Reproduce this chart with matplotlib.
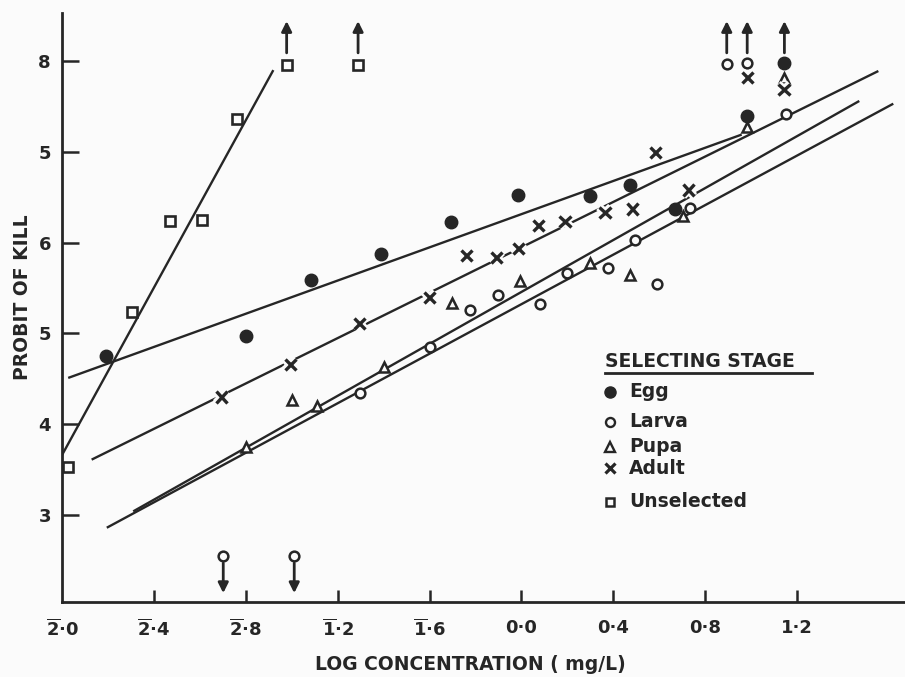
import matplotlib
matplotlib.use("Agg")
import matplotlib.pyplot as plt
import matplotlib.patheffects as pe

INK = "#262626"
BG = "#fbfbfb"

# x = log concentration (2̄.0 == -2.0), y = probit of kill
egg_x = [-1.808, -1.200, -0.916, -0.611, -0.306, -0.013, 0.299, 0.473, 0.669, 0.982, 1.145]
egg_y = [4.75, 4.97, 5.59, 5.87, 6.23, 6.52, 6.51, 6.63, 6.37, 7.40, 7.98]
egg_up = [1.145]

larva_x = [-1.298, -0.989, -0.703, -0.398, -0.224, -0.101, 0.081, 0.197, 0.378, 0.495,
           0.592, 0.734, 1.152, 0.894, 0.983]
larva_y = [2.55, 2.55, 4.34, 4.85, 5.26, 5.42, 5.32, 5.67, 5.72, 6.03,
           5.54, 6.38, 7.42, 7.97, 7.98]
larva_up = [0.894, 0.983]
larva_down = [-1.298, -0.989]

pupa_x = [-1.200, -0.999, -0.891, -0.598, -0.303, -0.006, 0.299, 0.473, 0.705, 0.984, 1.143]
pupa_y = [3.75, 4.27, 4.20, 4.63, 5.33, 5.58, 5.78, 5.64, 6.29, 7.27, 7.81]

adult_x = [-1.305, -1.007, -0.703, -0.401, -0.238, -0.108, -0.013, 0.074, 0.190, 0.364,
           0.485, 0.582, 0.727, 0.984, 1.143]
adult_y = [4.30, 4.66, 5.11, 5.40, 5.86, 5.84, 5.94, 6.19, 6.23, 6.33,
           6.37, 6.99, 6.58, 7.82, 7.69]

unsel_x = [-1.975, -1.694, -1.530, -1.389, -1.237, -1.022, -0.711]
unsel_y = [3.53, 5.24, 6.24, 6.25, 7.36, 7.96, 7.96]
unsel_up = [-1.022, -0.711]

# fitted probit lines: (x0, x1), (y0, y1)
egg_line = ([-1.973, 0.959], [4.51, 7.19])
adult_line = ([-1.871, 1.554], [3.61, 7.89])
pupa_line = ([-1.690, 1.471], [3.04, 7.56])
larva_line = ([-1.805, 1.619], [2.86, 7.53])
unsel_line = ([-2.000, -1.080], [3.66, 7.90])

xticks = [-2.0, -1.6, -1.2, -0.8, -0.4, 0.0, 0.4, 0.8, 1.2]
xtick_labels = [r"$\overline{\mathbf{2}}$·0", r"$\overline{\mathbf{2}}$·4",
                r"$\overline{\mathbf{2}}$·8", r"$\overline{\mathbf{1}}$·2",
                r"$\overline{\mathbf{1}}$·6", "0·0", "0·4", "0·8", "1·2"]
yticks = [3, 4, 5, 6, 7, 8]
ytick_labels = ["3", "4", "5", "6", "5", "8"]

plt.rcParams["font.family"] = ["DejaVu Sans"]
plt.rcParams["font.weight"] = "bold"
plt.rcParams["mathtext.fontset"] = "dejavusans"

fig = plt.figure(figsize=(9.05, 6.77), dpi=100, facecolor=BG)
ax = fig.add_axes([62 / 905, 1 - 602 / 677, 843 / 905, 589 / 677])
ax.set_facecolor(BG)

for line in [egg_line, adult_line, pupa_line, larva_line, unsel_line]:
    ax.plot(line[0], line[1], color=INK, lw=1.7, zorder=2, solid_capstyle="butt")

halo = [pe.Stroke(linewidth=6, foreground=BG), pe.Normal()]
ax.plot(egg_x, egg_y, "o", ms=9, color=INK, zorder=4)
ax.plot(larva_x, larva_y, "o", ms=7, mfc=BG, mec=INK, mew=1.8, zorder=4)
ax.plot(pupa_x, pupa_y, "^", ms=7.5, mfc=BG, mec=INK, mew=1.8, zorder=4)
ax.plot(adult_x, adult_y, "x", ms=8, mew=2.4, color=INK, zorder=4, path_effects=halo)
ax.plot(unsel_x, unsel_y, "s", ms=6.5, mfc=BG, mec=INK, mew=1.9, zorder=4)

arrow = dict(arrowstyle="-|>", lw=2.0, color=INK, mutation_scale=15, shrinkA=0, shrinkB=0)
for xv in egg_up + larva_up + unsel_up:
    ax.annotate("", xy=(xv, 8.44), xytext=(xv, 8.09), arrowprops=arrow)
for xv in larva_down:
    ax.annotate("", xy=(xv, 2.14), xytext=(xv, 2.47), arrowprops=arrow)

ax.set_xlim(-2.0, 1.670)
ax.set_ylim(2.042, 8.529)
for s in ["top", "right"]:
    ax.spines[s].set_visible(False)
for s in ["left", "bottom"]:
    ax.spines[s].set_linewidth(2.0)
    ax.spines[s].set_color(INK)

ax.set_xticks(xticks)
ax.set_xticklabels(xtick_labels)
ax.set_yticks(yticks)
ax.set_yticklabels(ytick_labels)
ax.tick_params(axis="x", direction="in", length=9, width=1.8, color=INK,
               labelsize=13, pad=12, labelcolor=INK)
ax.tick_params(axis="y", direction="in", length=12, width=1.8, color=INK,
               labelsize=13, pad=8, labelcolor=INK)
ax.xaxis.get_major_ticks()[0].tick1line.set_visible(False)

fig.text(22 / 905, 1 - 297 / 677, "PROBIT OF KILL", rotation=90, ha="center", va="center",
         fontsize=13.5, color=INK)
fig.text(470 / 905, 1 - 664 / 677, "LOG CONCENTRATION ( mg/L)", ha="center", va="center",
         fontsize=13.5, color=INK)

# legend block
tr = ax.transAxes
ax.text(0.644, 0.408, "SELECTING STAGE", transform=tr, ha="left", va="center",
        fontsize=13.5, color=INK)
ax.plot([0.644, 0.890], [0.389, 0.389], transform=tr, color=INK, lw=2.0, clip_on=False)
legend_rows = [
    ("Egg", dict(marker="o", ms=8, color=INK), 0.357),
    ("Larva", dict(marker="o", ms=6.5, mfc=BG, mec=INK, mew=1.7), 0.306),
    ("Pupa", dict(marker="^", ms=7, mfc=BG, mec=INK, mew=1.7), 0.2637),
    ("Adult", dict(marker="x", ms=7, mew=2.3, color=INK), 0.227),
    ("Unselected", dict(marker="s", ms=6, mfc=BG, mec=INK, mew=1.8), 0.170),
]
for name, style, yy in legend_rows:
    ax.plot([0.650], [yy], transform=tr, clip_on=False, ls="none", **style)
    ax.text(0.6726, yy, name, transform=tr, ha="left", va="center", fontsize=13.5, color=INK)

fig.savefig("out.png", dpi=100, facecolor=BG)
